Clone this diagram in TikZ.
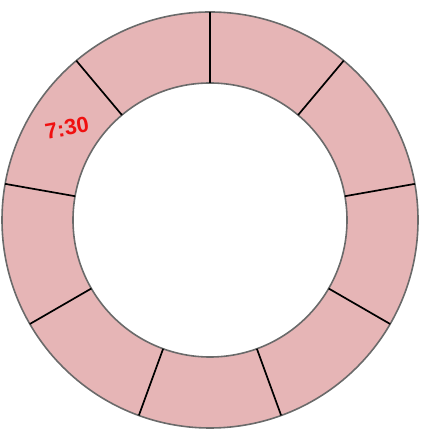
\documentclass[tikz,border=0pt]{standalone}
\usepackage{fontspec}
\setmainfont{Liberation Sans}
\usetikzlibrary{calc}
\definecolor{ringfill}{HTML}{E6B5B6}
\definecolor{ringedge}{HTML}{6A6A6A}
\definecolor{hand}{HTML}{F01010}
\tikzset{
  ring/.style={fill=ringfill, draw=ringedge, line width=1.6pt, even odd rule},
  divider/.style={draw=black, line width=1.7pt},
  handlabel/.style={text=hand, font=\bfseries\fontsize{22}{22}\selectfont, inner sep=0pt}
}
\begin{document}
\begin{tikzpicture}[x=1pt,y=1pt]
\useasboundingbox (0,0) rectangle (420,435);
\coordinate (c) at (210,215);
\path[ring] (c) circle[radius=208] (c) circle[radius=137];
\foreach \a in {90,50,10,-30,-70,-110,-150,170,130}{
  \coordinate (i\a) at ($(c)+(\a:137)$);
  \coordinate (o\a) at ($(c)+(\a:208)$);
  \draw[divider] (i\a) -- (o\a);
}
\node[handlabel, rotate=10] (lbl) at (67,307) {7:30};
\end{tikzpicture}
\end{document}
